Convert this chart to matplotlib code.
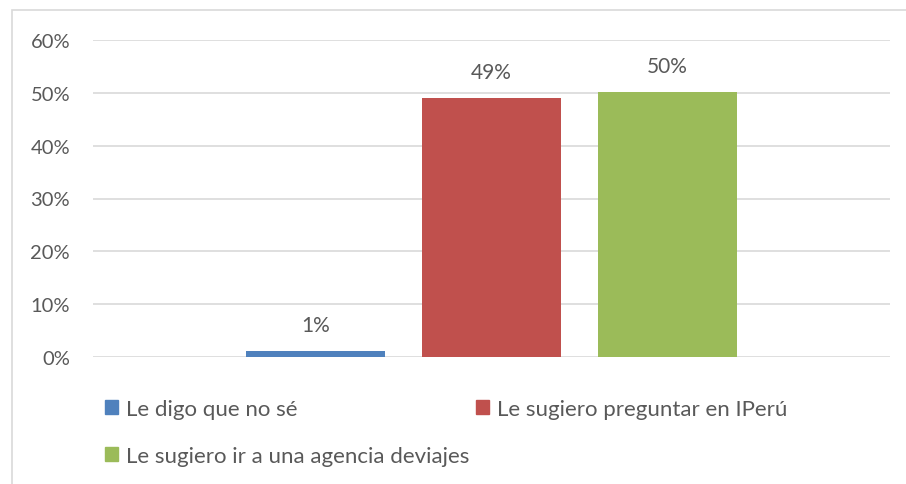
import matplotlib
matplotlib.use("Agg")
import matplotlib.pyplot as plt
from matplotlib.patches import Rectangle, Patch
import numpy as np

series = ["Le digo que no sé", "Le sugiero preguntar en IPerú", "Le sugiero ir a una agencia deviajes"]
values = [0.012, 0.49, 0.502]
labels = ["1%", "49%", "50%"]
colors = ["#4f81bd", "#c0504d", "#9bbb59"]
yticks = [0, 0.1, 0.2, 0.3, 0.4, 0.5, 0.6]
ytick_labels = ["0%", "10%", "20%", "30%", "40%", "50%", "60%"]

plt.rcParams['font.family'] = ['Lato', 'DejaVu Sans']
W, H = 906, 485
fig = plt.figure(figsize=(W/100, H/100), dpi=100)
fig.patches.append(Rectangle((12/W, -0.1), 1.1, 1 - 11/H + 0.1, transform=fig.transFigure,
                             fill=False, edgecolor="#d9d9d9", lw=1.2))

ax = fig.add_axes([93/W, 1 - 358/H, (890-93)/W, (358-41)/H])
ax.set_ylim(0, 0.6)
ax.set_xlim(-0.5, 0.5)
axw = 890 - 93
bw = 139 / axw
step = 176 / axw
text_color = "#595959"
for i, (v, c, lab) in enumerate(zip(values, colors, labels)):
    x = (i - 1) * step
    ax.bar(x, v, width=bw, color=c, zorder=3)
    ax.text(x, v + 0.03, lab, ha="center", va="bottom", fontsize=15, color=text_color)

ax.set_yticks(yticks)
ax.set_yticklabels(ytick_labels, fontsize=14.5, color=text_color)
ax.tick_params(axis="y", length=0, pad=16.5)
ax.set_xticks([])
ax.grid(axis="y", color="#d9d9d9", lw=1.2, zorder=0)
for s in ax.spines.values():
    s.set_visible(False)

handles = [Patch(color=colors[0], label=series[0]),
           Patch(color=colors[2], label=series[2]),
           Patch(color=colors[1], label=series[1])]
leg = fig.legend(handles=handles, ncol=2, loc="upper left",
                 bbox_to_anchor=(105/W, 1 - 400/H), frameon=False,
                 borderpad=0, borderaxespad=0,
                 fontsize=16, handlelength=0.6, handleheight=0.6,
                 handletextpad=0.35, columnspacing=0.3, labelspacing=1.2)
for t in leg.get_texts():
    t.set_color(text_color)

fig.savefig("out.png", dpi=100)
